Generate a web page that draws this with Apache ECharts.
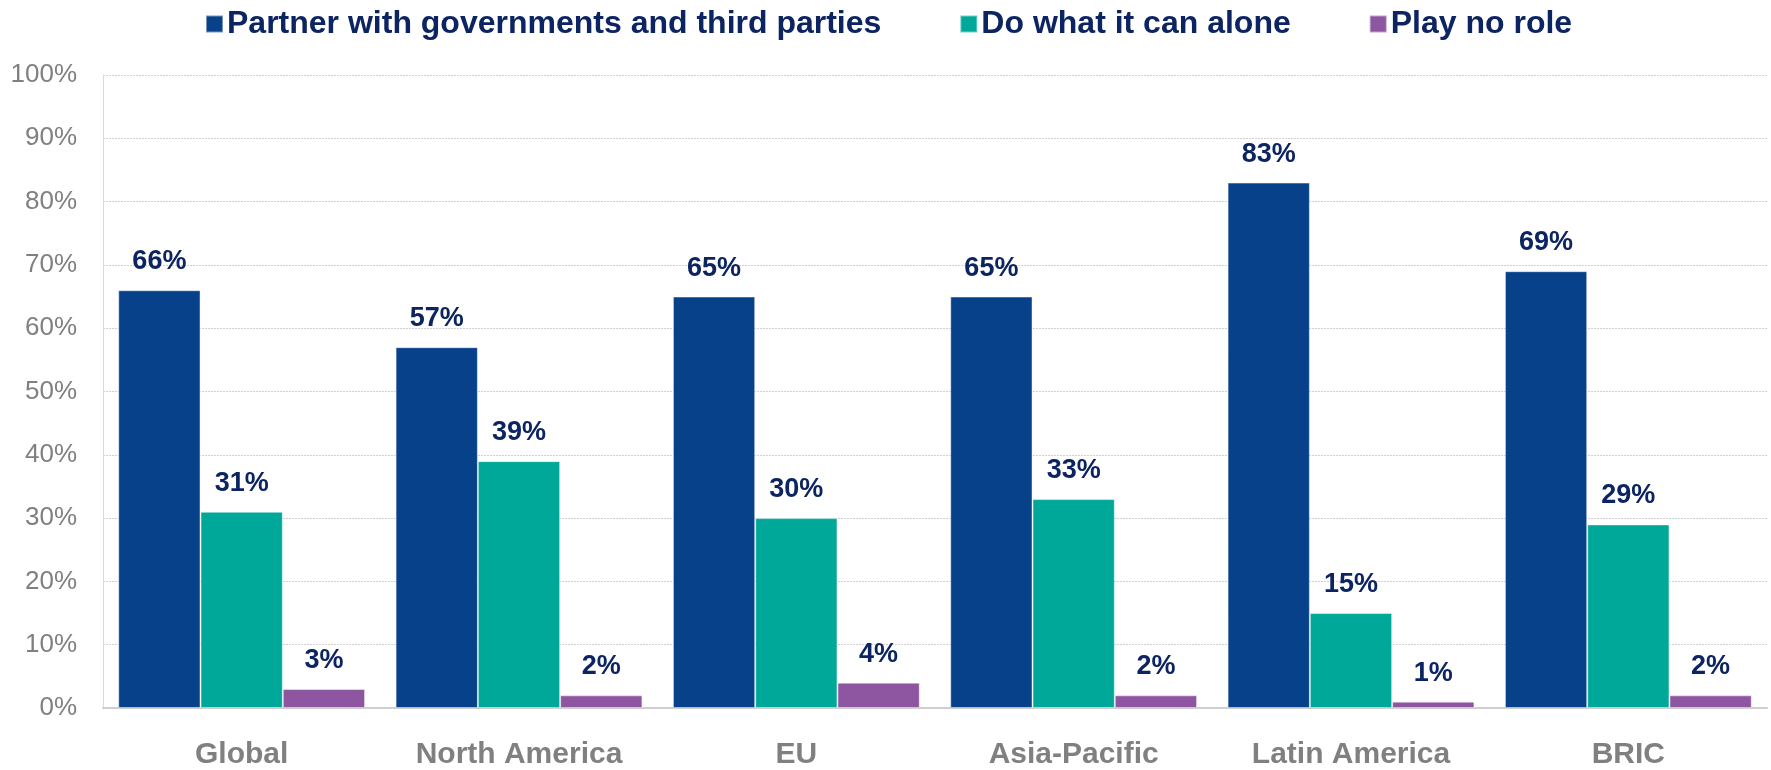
<!DOCTYPE html>
<html>
<head>
<meta charset="utf-8">
<script src="https://cdn.jsdelivr.net/npm/echarts@6/dist/echarts.min.js"></script>
<style>
  html, body { margin: 0; padding: 0; background: #ffffff; }
  #chart { width: 1771px; height: 770px; }
</style>
</head>
<body>
<div id="chart"></div>
<script>
// Regions surveyed
const regions = ['Global', 'North America', 'EU', 'Asia-Pacific', 'Latin America', 'BRIC'];

// Share of respondents (%) per answer
const partnerValues = [66, 57, 65, 65, 83, 69];
const aloneValues = [31, 39, 30, 33, 15, 29];
const noRoleValues = [3, 2, 4, 2, 1, 2];

const seriesNames = ['Partner with governments and third parties', 'Do what it can alone', 'Play no role'];
const yTicks = [0, 10, 20, 30, 40, 50, 60, 70, 80, 90, 100];

const boldFont = '"Liberation Sans Narrow", "Arial Narrow", "Liberation Sans", Arial, sans-serif';
const navy = '#0C2461';

function barSeries(name, data, color) {
  return {
    name: name,
    type: 'bar',
    data: data,
    barGap: '0%',
    barCategoryGap: '11%',
    itemStyle: { color: color, borderColor: 'rgba(255,255,255,0.45)', borderWidth: 1 },
    label: {
      show: true,
      position: 'top',
      distance: 15,
      formatter: '{c}%',
      fontFamily: boldFont,
      fontWeight: 'bold',
      fontSize: 27,
      color: navy
    }
  };
}

const chart = echarts.init(document.getElementById('chart'), null, { renderer: 'canvas' });
chart.setOption({
  animation: false,
  backgroundColor: '#ffffff',
  legend: {
    top: 3,
    left: 200,
    itemWidth: 17,
    itemHeight: 17,
    itemGap: 78,
    icon: 'rect',
    textStyle: {
      fontFamily: boldFont,
      fontWeight: 'bold',
      fontSize: 32,
      color: navy,
      padding: [0, 0, 0, -1]
    },
    data: seriesNames
  },
  grid: { left: 103, right: 4, top: 75, bottom: 62, containLabel: false },
  xAxis: {
    type: 'category',
    data: regions,
    axisTick: { show: false },
    axisLine: { lineStyle: { color: '#CFCFCF', width: 2 } },
    axisLabel: {
      interval: 0,
      hideOverlap: false,
      margin: 32,
      fontFamily: boldFont,
      fontWeight: 'bold',
      fontSize: 30,
      color: '#808080'
    }
  },
  yAxis: {
    type: 'value',
    min: yTicks[0],
    max: yTicks[yTicks.length - 1],
    interval: 10,
    axisLine: { show: true, lineStyle: { color: '#D9D9D9', width: 1 } },
    axisTick: { show: false },
    splitLine: { lineStyle: { color: '#D0D0D0', type: [2, 1], width: 1 } },
    axisLabel: {
      margin: 26,
      formatter: '{value}%',
      fontFamily: '"Liberation Sans", Arial, sans-serif',
      fontSize: 26,
      color: '#808080'
    }
  },
  series: [
    barSeries(seriesNames[0], partnerValues, '#06418A'),
    barSeries(seriesNames[1], aloneValues, '#00A89A'),
    barSeries(seriesNames[2], noRoleValues, '#8E55A1')
  ]
});
</script>
</body>
</html>
